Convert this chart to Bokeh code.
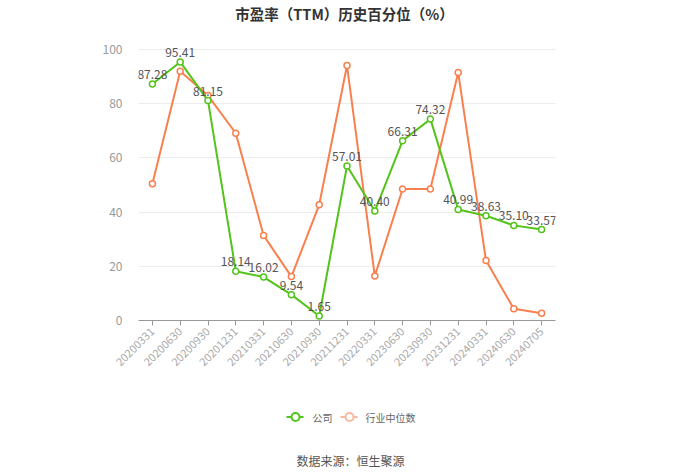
from bokeh.plotting import figure
from bokeh.models import ColumnDataSource, FactorRange, Range1d, FixedTicker, LabelSet
from bokeh.layouts import column
from bokeh.core.properties import value
from bokeh.embed import file_html
from bokeh.resources import INLINE
from math import pi

dates = ["20200331", "20200630", "20200930", "20201231", "20210331", "20210630",
         "20210930", "20211231", "20220331", "20230630", "20230930", "20231231",
         "20240331", "20240630", "20240705"]
company = [87.28, 95.41, 81.15, 18.14, 16.02, 9.54, 1.65, 57.01, 40.40, 66.31,
           74.32, 40.99, 38.63, 35.10, 33.57]
industry = [50.5, 92.0, 83.0, 69.1, 31.4, 16.2, 42.7, 94.1, 16.4, 48.5, 48.5,
            91.5, 22.1, 4.3, 2.7]
y_ticks = [0, 20, 40, 60, 80, 100]
series_names = ["公司", "行业中位数"]
title_text = "市盈率（TTM）历史百分位（%）"
source_text = "数据来源：恒生聚源"

GREEN = "#52c41a"
ORANGE = "#fa7f4e"
ORANGE_LIGHT = "#f8b9a0"
FONT = "Noto Sans CJK SC"
FL, FR = 138, 555       # frame left / right in canvas px
H0, H1 = 30, 400        # title panel height, bottom of main panel
Y100, FB = 49, 320      # canvas y of the 100 gridline / frame bottom
FT = H0                 # frame top, leaves room for labels above 100
y_top = 100 + (Y100 - FT) * 100.0 / (FB - Y100)


def panel(h, y0):
    f = figure(width=700, height=h, x_range=Range1d(FL, FR),
               y_range=Range1d(y0 + h, y0), output_backend="svg",
               toolbar_location=None, min_border_left=FL,
               min_border_right=700 - FR, min_border_top=0, min_border_bottom=0)
    f.axis.visible = False
    f.grid.visible = False
    f.outline_line_color = None
    f.border_fill_color = "white"
    f.background_fill_color = "white"
    return f


# title panel
t = panel(H0, 0)
t.text(x=[344], y=[13], text=[title_text], text_align="center",
       text_baseline="middle", text_font=value(FONT),
       text_font_size=value("14.5px"), text_font_style="bold",
       text_color="#333333")

src = ColumnDataSource(dict(x=dates, c=company, i=industry,
                            lab=["%.2f" % v for v in company]))

p = figure(width=700, height=H1 - H0, x_range=FactorRange(*dates),
           y_range=Range1d(0, y_top), output_backend="svg", toolbar_location=None,
           min_border_left=FL, min_border_right=700 - FR, min_border_top=FT - H0,
           min_border_bottom=H1 - FB)
p.outline_line_color = None
p.background_fill_color = "white"
p.border_fill_color = "white"

p.xgrid.grid_line_color = None
p.ygrid.grid_line_color = "#ececec"
p.yaxis.ticker = FixedTicker(ticks=y_ticks)
p.yaxis.axis_line_color = None
p.yaxis.major_tick_line_color = None
p.yaxis.minor_tick_line_color = None
p.yaxis.major_label_text_color = "#999999"
p.yaxis.major_label_text_font = FONT
p.yaxis.major_label_text_font_size = "12px"
p.yaxis.major_label_standoff = 10

p.xaxis.axis_line_color = "#999999"
p.xaxis.major_tick_line_color = "#999999"
p.xaxis.major_tick_out = 5
p.xaxis.major_tick_in = 0
p.xaxis.minor_tick_line_color = None
p.xaxis.major_label_orientation = pi / 4
p.xaxis.major_label_text_color = "#aaaaaa"
p.xaxis.major_label_text_font = FONT
p.xaxis.major_label_text_font_size = "11px"
p.xaxis.major_label_standoff = 4

p.line("x", "i", source=src, line_color=ORANGE, line_width=2)
p.scatter("x", "i", source=src, size=6, line_color=ORANGE, fill_color="white",
          line_width=1.5)
p.line("x", "c", source=src, line_color=GREEN, line_width=2)
p.scatter("x", "c", source=src, size=6, line_color=GREEN, fill_color="white",
          line_width=1.5)

labels = LabelSet(x="x", y="c", text="lab", source=src, text_align="center",
                  text_baseline="bottom", y_offset=5, text_color="#555555",
                  text_font_size=value("12px"), text_font=value(FONT))
p.add_layout(labels)

# bottom panel: legend + source
q = panel(473 - H1, H1)
ly = 416.5
leg = ColumnDataSource(dict(x0=[286, 340], x1=[303, 357], xc=[295, 349],
                            y=[ly, ly], col=[GREEN, ORANGE_LIGHT],
                            tx=[312, 365], name=series_names))
q.segment("x0", "y", "x1", "y", source=leg, line_color="col", line_width=2)
q.scatter("xc", "y", source=leg, size=8, line_color="col", fill_color="white",
          line_width=2)
q.text("tx", "y", text="name", source=leg, text_baseline="middle",
       text_font=value(FONT), text_font_size=value("10px"),
       text_color="#666666")
q.text(x=[350], y=[460], text=[source_text], text_align="center",
       text_baseline="middle", text_font=value(FONT),
       text_font_size=value("12px"), text_color="#555555")

layout = column(t, p, q, spacing=0)
open("out.html", "w").write(file_html(layout, INLINE))
